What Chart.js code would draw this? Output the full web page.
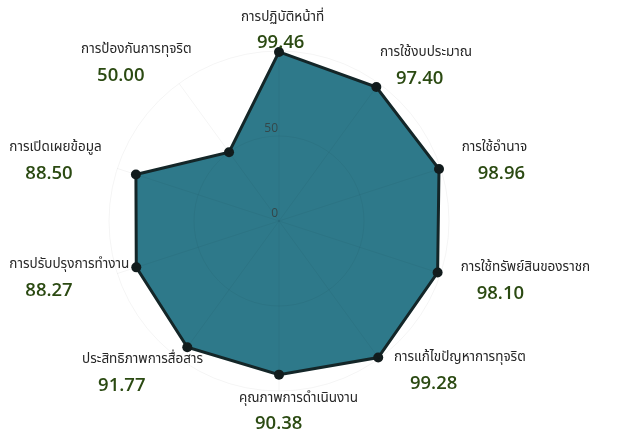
<!DOCTYPE html>
<html>
<head>
<meta charset="utf-8">
<script src="https://cdn.jsdelivr.net/npm/chart.js@4/dist/chart.umd.min.js"></script>
<style>
  html, body { margin: 0; padding: 0; background: #fff; }
  #wrap { width: 621px; height: 436px; position: relative; }
</style>
</head>
<body>
<div id="wrap"><canvas id="radar"></canvas></div>
<script>
// หัวข้อการประเมิน (เรียงตามเข็มนาฬิกาจากด้านบน)
const categories = [
  "การปฏิบัติหน้าที่",
  "การใช้งบประมาณ",
  "การใช้อำนาจ",
  "การใช้ทรัพย์สินของราชก",
  "การแก้ไขปัญหาการทุจริต",
  "คุณภาพการดำเนินงาน",
  "ประสิทธิภาพการสื่อสาร",
  "การปรับปรุงการทำงาน",
  "การเปิดเผยข้อมูล",
  "การป้องกันการทุจริต"
];
const scores = [99.46, 97.40, 98.96, 98.10, 99.28, 90.38, 91.77, 88.27, 88.50, 50.00];
const tickValues = [0, 50, 100];
const tickLabels = ["0", "50"];

// ระยะเลื่อนป้ายชื่อจากปลายแกน (dx ขอบซ้าย, dy กึ่งกลางบรรทัดแรก)
const labelNudge = [
  [-38, -33], [1, -30], [21, -20], [20, -5], [15, 0],
  [-40, 8], [-97, 2], [-108, -8], [-108, -20], [-98, -33]
];

const thaiFont = "'Noto Sans Thai', 'Noto Sans', 'DejaVu Sans', sans-serif";

// ตัวเลขสเกล (0, 50) วาดทับพื้นที่สี
const tickText = {
  id: "tickText",
  afterDatasetsDraw(chart) {
    const scale = chart.scales.r;
    const ctx = chart.ctx;
    ctx.save();
    ctx.font = "12px 'Open Sans', sans-serif";
    ctx.fillStyle = "#34474a";
    ctx.textAlign = "right";
    ctx.textBaseline = "middle";
    tickLabels.forEach((t, i) => {
      const d = scale.getDistanceFromCenterForValue(tickValues[i]);
      ctx.fillText(t, scale.xCenter - 1, scale.yCenter - d - 7);
    });
    ctx.restore();
  }
};

// วาดชื่อหัวข้อ + คะแนนไว้ที่ปลายแกนแต่ละแกน
const axisLabels = {
  id: "axisLabels",
  afterDraw(chart) {
    const scale = chart.scales.r;
    const ctx = chart.ctx;
    ctx.save();
    ctx.textAlign = "left";
    ctx.textBaseline = "middle";
    for (let i = 0; i < categories.length; i++) {
      const p = scale.getPointPosition(i, scale.drawingArea);
      const x = p.x + labelNudge[i][0];
      const y = p.y + labelNudge[i][1];
      ctx.font = "13.5px " + thaiFont;
      ctx.fillStyle = "#262626";
      ctx.fillText(categories[i], x, y);
      ctx.font = "600 18.5px 'Open Sans', sans-serif";
      ctx.fillStyle = "#2b4a12";
      ctx.fillText(scores[i].toFixed(2), x + 16, y + 25);
    }
    ctx.restore();
  }
};

new Chart(document.getElementById("radar"), {
  type: "radar",
  data: {
    labels: categories,
    datasets: [{
      data: scores,
      fill: true,
      backgroundColor: "#2e798a",
      borderColor: "#142628",
      borderWidth: 3,
      pointRadius: 5,
      pointBackgroundColor: "#121c1d",
      pointBorderColor: "#121c1d",
      pointBorderWidth: 0
    }]
  },
  options: {
    responsive: true,
    maintainAspectRatio: false,
    animation: false,
    layout: { padding: { top: 51, bottom: 45, left: 0, right: 62 } },
    plugins: { legend: { display: false }, tooltip: { enabled: false } },
    scales: {
      r: {
        min: 0,
        max: 100,
        afterBuildTicks(axis) { axis.ticks = tickValues.map(v => ({ value: v })); },
        grid: { circular: true, color: "rgba(0,0,0,0.045)", z: 1 },
        angleLines: { color: "rgba(0,0,0,0.045)" },
        pointLabels: { display: false },
        ticks: { display: false }
      }
    }
  },
  plugins: [tickText, axisLabels]
});
</script>
</body>
</html>
